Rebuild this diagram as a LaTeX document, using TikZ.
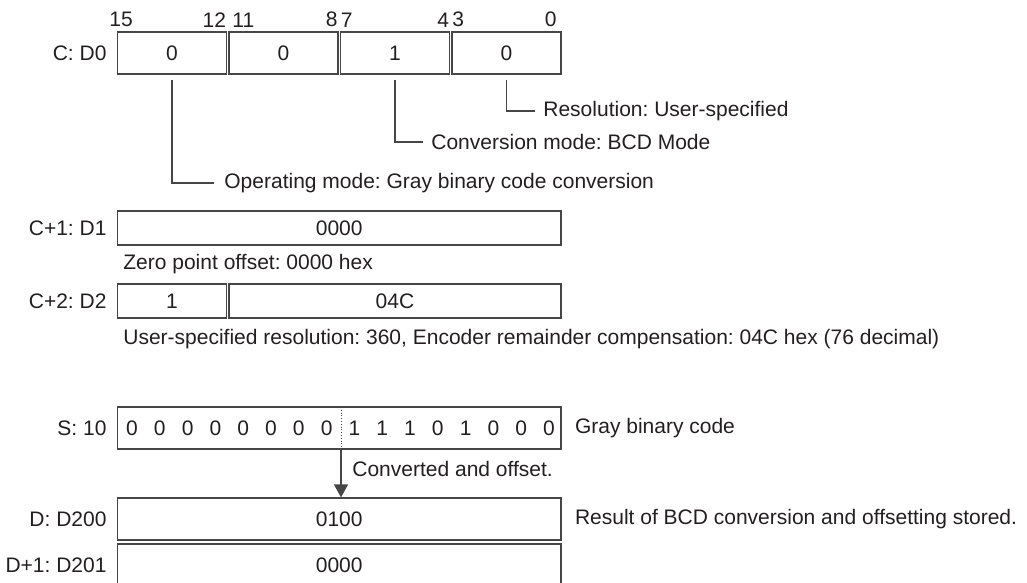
\documentclass[tikz,border=0pt]{standalone}
\usepackage{fontspec}
\setmainfont{Liberation Sans}
\usetikzlibrary{arrows.meta,positioning}
\definecolor{regline}{RGB}{70,70,70}
\definecolor{regtext}{RGB}{35,31,32}
\frenchspacing

\begin{document}
\begin{tikzpicture}[x=0.5pt,y=-0.5pt,font=\fontsize{10.5}{12}\selectfont,text=regtext]
    \tikzset{reg/.style={draw=regline,line width=0.6pt,minimum height=21pt,inner sep=0pt,anchor=center},
      bit/.style={inner sep=0pt},
      lbl/.style={inner sep=0pt,left=5pt},
      note/.style={anchor=west,inner sep=0pt},
      lead/.style={draw=regline,line width=0.6pt}}
    \useasboundingbox (0,0) rectangle (1027,583);
    \clip (0,0) rectangle (1027,583);
    % C: D0, four nibbles
    \foreach \v [count=\i] in {0,0,1,0}{
      \node[reg,minimum width=54.5pt] (nib\i) at ({172+111.5*(\i-1)},53) {\v};
    }
    \node[lbl] (lc) at (nib1.west) {C: D0};
    \node[bit,anchor=south west] (b15) at (109,27.5) {15};
    \node[bit,anchor=south east] (b12) at (226.5,27.5) {12};
    \node[bit,anchor=south west] (b11) at (232,27.5) {11};
    \node[bit,anchor=south east] (b8) at (338,27.5) {8};
    \node[bit,anchor=south west] (b7) at (340.5,27.5) {7};
    \node[bit,anchor=south east] (b4) at (449.5,27.5) {4};
    \node[bit,anchor=south west] (b3) at (452,27.5) {3};
    \node[bit,anchor=south east] (b0) at (557,27.5) {0};
    % leaders
    \node[note] (resol) at (543,111) {Resolution: User-specified};
    \node[note] (convm) at (431,142) {Conversion mode: BCD Mode};
    \node[note] (opmode) at (224,183) {Operating mode: Gray binary code conversion};
    \draw[lead] ([yshift=-2.5pt]nib4.south) |- ([xshift=-4pt]resol.west);
    \draw[lead] ([yshift=-2.5pt]nib3.south) |- ([xshift=-4pt]convm.west);
    \draw[lead] ([yshift=-2.5pt]nib1.south) |- ([xshift=-5pt]opmode.west);
    % C+1 and C+2
    \node[reg,minimum width=221.75pt,minimum height=17pt] (d1) at (339.25,228) {0000};
    \node[lbl] (lc1) at (d1.west) {C+1: D1};
    \node[note] (zero) at (123,264) {Zero point offset: 0000 hex};
    \node[reg,minimum width=54.5pt,minimum height=17pt] (d2a) at (172,301) {1};
    \node[reg,minimum width=166pt,minimum height=17pt] (d2b) at (395,301) {04C};
    \node[lbl] (lc2) at (d2a.west) {C+2: D2};
    \node[note] (userres) at (123,339) {User-specified resolution: 360, Encoder remainder compensation: 04C hex (76 decimal)};
    % S: source word
    \node[reg,minimum width=221.75pt] (src) at (339.25,428) {};
    \node[lbl] (ls) at (src.west) {S: 10};
    \foreach \v [count=\i] in {0,0,0,0,0,0,0,0,1,1,1,0,1,0,0,0}{
      \node[bit] (s\i) at ({132+27.8*(\i-1)},428) {\v};
    }
    \coordinate (stop) at (341,407);
    \coordinate (sbot) at (341,449);
    \draw[lead,line width=0.4pt,densely dotted] (stop) -- (sbot);
    \node[note,right=6.5pt of src] (gray) {Gray binary code};
    % D: result
    \node[reg,minimum width=221.75pt] (d200) at (339.25,519) {0100};
    \node[reg,minimum width=221.75pt] (d201) at (339.25,565) {0000};
    \node[lbl] (ld200) at (d200.west) {D: D200};
    \node[lbl] (ld201) at (d201.west) {D+1: D201};
    \draw[lead,-{Triangle[width=7pt,length=6.5pt]}] (sbot) -- (sbot |- d200.north);
    \node[note] (conv) at (352,469) {Converted and offset.};
    \node[note,right=6.5pt of d200] (result) {Result of BCD conversion and offsetting stored.};
  \end{tikzpicture}
\end{document}
